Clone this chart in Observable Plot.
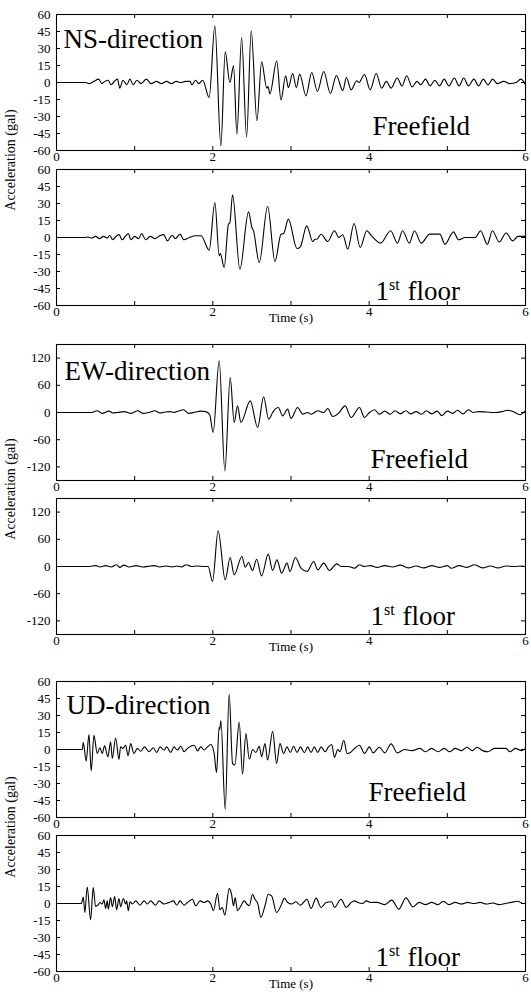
<!DOCTYPE html>
<html><head><meta charset="utf-8">
<script src="https://cdn.jsdelivr.net/npm/d3@7"></script>
<script src="https://cdn.jsdelivr.net/npm/@observablehq/plot@0.6"></script>
<style>
body{margin:0;background:#fff;}
#chart{position:relative;width:531px;height:992px;overflow:hidden;font-family:"Liberation Serif","Times New Roman",serif;color:#000;}
#chart svg{position:absolute;left:0;}
#chart svg text{font-family:"Liberation Serif","Times New Roman",serif;}
.ylab{position:absolute;font-size:14px;white-space:nowrap;transform:translate(-50%,-50%) rotate(-90deg);}
</style></head><body><div id="chart"></div><script>
// ---- data: [time (s), acceleration (gal)] ----
const nsFreefield = [[0,0],[0.37,0],[0.42,-1],[0.48,1],[0.54,3],[0.58,-1],[0.62,1],[0.66,2],[0.7,-2],[0.74,1],[0.78,3],[0.81,-5],[0.85,2],[0.9,-2],[0.94,3],[0.98,-2],[1.03,2],[1.08,-1],[1.15,3],[1.21,-1],[1.28,1],[1.34,-1],[1.41,1],[1.47,-1],[1.53,1],[1.59,0],[1.65,1],[1.71,1],[1.73,-2],[1.78,2],[1.82,-1],[1.87,2],[1.953,-13.2],[2.026,50],[2.103,-56],[2.158,27],[2.218,0],[2.265,14.7],[2.308,-45.6],[2.368,39.7],[2.432,-48],[2.491,45.6],[2.564,-33.8],[2.624,18.2],[2.69,-5],[2.705,-3.5],[2.73,-10],[2.817,19],[2.872,-15.3],[2.932,5.9],[2.966,-4.4],[3.022,7.9],[3.068,-4.4],[3.111,7.4],[3.192,-11.8],[3.265,8.8],[3.338,-7.9],[3.419,9.7],[3.504,-9.7],[3.581,6.2],[3.662,-7.1],[3.709,4.4],[3.769,-6.5],[3.842,1.5],[3.87,0],[3.94,7],[4.013,-6.5],[4.09,8],[4.16,-5],[4.22,1],[4.28,-5],[4.36,4],[4.42,-3],[4.48,6],[4.55,-4],[4.61,1],[4.66,-2],[4.72,3],[4.78,-3],[4.84,2],[4.9,-3],[4.96,3],[5.02,-3],[5.09,4],[5.15,-3],[5.21,4],[5.27,-3],[5.34,3],[5.4,-3],[5.46,3],[5.52,-2],[5.58,3],[5.64,-1],[5.72,1],[5.8,-1],[5.88,0],[5.94,3],[6,-2]];
const nsFloor1 = [[0,0],[0.37,0],[0.4,0.5],[0.45,-0.5],[0.5,1],[0.55,-1],[0.6,1],[0.65,-0.5],[0.68,2],[0.72,-2],[0.76,1],[0.8,2.5],[0.84,-2],[0.88,1],[0.92,3.5],[0.95,-2],[1,1],[1.05,-1],[1.09,3.5],[1.14,-2],[1.2,1],[1.26,-1],[1.32,1.5],[1.37,2.5],[1.42,-3],[1.48,2],[1.52,-1],[1.58,3],[1.63,-2],[1.7,0],[1.78,1.5],[1.85,1.5],[1.953,-11.2],[2.026,30.9],[2.082,-16.2],[2.095,-14],[2.145,-26.5],[2.2,11.8],[2.218,13],[2.252,37.6],[2.346,-28],[2.457,22.6],[2.5,8.8],[2.52,5.9],[2.594,-22],[2.701,27.3],[2.795,-21.2],[2.872,2.9],[2.906,3.5],[2.966,16.2],[3.077,-9.7],[3.12,-8.2],[3.201,10.3],[3.278,-3.5],[3.308,-1.5],[3.33,-1.5],[3.385,2.9],[3.47,-3.5],[3.556,5.9],[3.611,0],[3.662,2.4],[3.726,-10.3],[3.807,12.3],[3.885,-8.8],[3.97,5.9],[4.03,1.5],[4.145,-5],[4.275,6],[4.362,-5],[4.427,6],[4.514,-5],[4.579,6],[4.666,-5],[4.774,3],[4.904,3],[4.97,-6],[5.078,5],[5.143,-2],[5.23,0],[5.36,0],[5.425,6],[5.512,-6],[5.577,6],[5.664,-4],[5.751,4],[5.838,-3],[5.903,1],[6,1]];
const ewFreefield = [[0,0],[0.45,0],[0.519,4],[0.584,-2],[0.671,3],[0.72,-1],[0.78,0],[0.867,2],[0.953,-2],[1.04,4],[1.105,-2],[1.18,0],[1.257,4],[1.322,-1],[1.39,1],[1.452,2],[1.5,0],[1.539,2],[1.626,6],[1.691,-2],[1.778,1],[1.843,3],[1.909,2],[1.96,-5],[2.004,-44],[2.081,114],[2.154,-128.7],[2.222,77],[2.273,-22],[2.316,14.7],[2.359,-22],[2.479,25.7],[2.573,-33],[2.65,34.6],[2.714,-14.7],[2.765,0],[2.8,8],[2.838,11],[2.893,-7.4],[2.957,7.4],[3,-13],[3.085,11],[3.149,-3.7],[3.214,0],[3.256,-3.7],[3.342,3.7],[3.419,0],[3.47,8.8],[3.534,-8.8],[3.607,-2],[3.692,14.7],[3.769,-11],[3.876,11],[3.94,-11],[4.004,0],[4.07,6],[4.13,-4],[4.2,3],[4.27,-4],[4.33,4],[4.4,-3],[4.47,4],[4.53,-3],[4.6,2],[4.67,-4],[4.73,4],[4.8,-3],[4.87,3],[4.93,-7],[5,3],[5.07,-2],[5.13,5],[5.2,-3],[5.27,6],[5.33,0],[5.4,2],[5.5,1],[5.6,0],[5.7,2],[5.77,5],[5.84,2],[5.93,-5],[6,5]];
const ewFloor1 = [[0,0],[0.42,0],[0.5,2],[0.56,-1],[0.63,2],[0.7,-1],[0.77,4],[0.81,-2],[0.86,3],[0.93,-1],[1.02,2],[1.1,-1],[1.2,1],[1.25,2],[1.32,-1],[1.4,1],[1.48,-1],[1.54,1],[1.6,-1],[1.66,4],[1.72,0],[1.8,1],[1.88,0],[1.94,0],[1.996,-33],[2.068,78.7],[2.158,-29.4],[2.222,19.9],[2.273,-18.4],[2.372,22],[2.414,-1.5],[2.457,8.8],[2.508,-8.8],[2.56,16],[2.624,-20.6],[2.709,27.2],[2.765,-8.8],[2.82,14.7],[2.88,-14.7],[2.949,7.4],[2.987,-11],[3.056,19.9],[3.128,-3.7],[3.205,-11],[3.291,11],[3.342,-7.4],[3.419,7.4],[3.491,-8.8],[3.585,5.9],[3.641,0],[3.73,0],[3.812,-3.7],[3.876,3.7],[3.94,0],[4.02,2],[4.1,-2],[4.2,2],[4.3,-1],[4.4,3],[4.5,-3],[4.6,1],[4.7,-3],[4.8,2],[4.9,-2],[5,2],[5.05,-4],[5.15,2],[5.25,-2],[5.35,4],[5.45,-3],[5.55,1],[5.65,-3],[5.75,1],[5.85,0],[5.95,1],[6,0]];
const udFreefield = [[0,0],[0.33,0],[0.342,6.1],[0.38,-10.2],[0.415,13.1],[0.444,-18.9],[0.479,12.5],[0.521,-3.5],[0.556,1.5],[0.585,-3.5],[0.615,3.2],[0.658,-6.4],[0.692,6.7],[0.714,-7.9],[0.756,10.2],[0.799,-8.7],[0.82,2.3],[0.85,0.9],[0.885,3.8],[0.915,-5.5],[0.949,5.2],[0.991,-3.5],[1.034,1],[1.077,-1.5],[1.128,2.3],[1.184,-2],[1.239,1.5],[1.282,-2.6],[1.325,2.3],[1.376,-0.5],[1.41,2.3],[1.461,-2.6],[1.504,2.3],[1.547,-0.5],[1.59,2.9],[1.632,-2],[1.675,1],[1.761,3.8],[1.803,-1.2],[1.846,2.3],[1.889,-0.5],[1.932,2.3],[1.974,4.4],[2.017,-3.5],[2.047,-20.4],[2.081,19.8],[2.09,18],[2.103,25.6],[2.158,-53],[2.209,48.9],[2.252,-12.2],[2.282,-13.7],[2.337,24.2],[2.38,-21.8],[2.423,14],[2.466,-8.4],[2.509,0],[2.551,-2.6],[2.594,2.9],[2.624,-6.4],[2.667,5.2],[2.701,-9.3],[2.765,16],[2.816,-12.2],[2.859,5.2],[2.906,-3.5],[2.949,2.3],[2.991,-2.6],[3.034,2.9],[3.077,-2.6],[3.12,2.3],[3.171,-2.9],[3.214,2.3],[3.256,-2.6],[3.299,2.3],[3.342,-2.6],[3.385,2.3],[3.436,-2],[3.479,2.3],[3.521,4.4],[3.556,-7],[3.598,0],[3.628,-2],[3.675,8.2],[3.718,-3.5],[3.761,-2.6],[3.812,0.9],[3.876,3.8],[3.94,-3.5],[4.004,2.3],[4.05,-3],[4.13,2],[4.2,-3],[4.28,5],[4.36,-3],[4.45,0],[4.55,-1],[4.65,1],[4.72,-2],[4.8,1],[4.88,-2],[4.96,1],[5.03,-2],[5.1,1],[5.18,-1],[5.25,2],[5.32,-1],[5.38,2],[5.45,-1],[5.52,-2],[5.6,1],[5.75,1],[5.8,-2],[5.87,1],[5.95,-1],[6,1]];
const udFloor1 = [[0,0],[0.32,0],[0.342,5.8],[0.363,-7.9],[0.393,14.6],[0.436,-14.3],[0.47,14],[0.5,-2.6],[0.53,-1.5],[0.556,0.9],[0.585,-0.5],[0.607,3.2],[0.628,-4.4],[0.65,2.3],[0.662,-5],[0.692,5.2],[0.714,-2.9],[0.744,6.1],[0.769,-5.5],[0.799,4.4],[0.82,-2.9],[0.855,4.4],[0.885,-0.5],[0.897,2.3],[0.919,-6.4],[0.94,1.5],[0.97,-0.5],[1.013,2.3],[1.068,-1.5],[1.12,2.3],[1.162,-0.5],[1.205,2.3],[1.269,-1.5],[1.312,2.3],[1.376,-0.5],[1.44,0.9],[1.496,2.3],[1.538,-1.5],[1.581,2.3],[1.632,-1.5],[1.675,0.9],[1.739,3.8],[1.782,-2],[1.838,2.3],[1.889,0.9],[1.932,2.3],[1.974,-0.5],[2.008,-6.4],[2.06,9],[2.09,-5.5],[2.12,-3.5],[2.154,-10.2],[2.209,13.1],[2.239,8.2],[2.265,-2],[2.286,5.2],[2.316,-6.4],[2.36,-2],[2.402,2.3],[2.436,-0.5],[2.466,-2],[2.509,8.2],[2.538,3.8],[2.573,0.3],[2.615,-12.2],[2.667,-2],[2.709,8.2],[2.752,6.7],[2.816,-7.9],[2.88,-0.5],[2.915,4.7],[2.957,0.9],[3.009,-0.5],[3.064,1.5],[3.12,-1.5],[3.205,3.8],[3.256,-4.4],[3.321,4.7],[3.385,-3.5],[3.449,0.9],[3.521,1.5],[3.556,-3.5],[3.641,3.8],[3.705,-3.5],[3.769,0.9],[3.812,2.3],[3.855,0.9],[3.919,0],[3.962,2.3],[4.026,0.9],[4.1,1],[4.2,-1],[4.29,3],[4.38,-5],[4.47,5],[4.56,-3],[4.64,1],[4.72,-1],[4.8,1],[4.88,-1],[4.95,2],[5.02,-1],[5.1,1],[5.18,-0.5],[5.26,1],[5.34,0],[5.42,1],[5.5,-0.5],[5.58,0.5],[5.66,-1],[5.74,0],[5.82,1],[5.9,2],[5.97,0],[6,0]];

const xTickLabels = [0, 2, 4, 6];
const xTickMarks = [0, 1, 2, 3, 4, 5, 6];
const yTicks60 = [-60, -45, -30, -15, 0, 15, 30, 45, 60];
const yTicks150 = [-120, -60, 0, 60, 120];
const directions = ["NS-direction", "EW-direction", "UD-direction"];
const siteFree = "Freefield";
const yLabel = "Acceleration (gal)";
const xLabel = "Time (s)";

// ---- layout ----
const W = 531, ML = 56, MR = 6, IH = 136, MT = 12, MB = 34;
const IW = W - ML - MR;
const font = "Liberation Serif, Times New Roman, serif";

function panel({data, yMax, yTicks, top, title, titleDx, titleDy, floor, siteDx, siteDy, time}) {
  const marks = [
    Plot.gridX(xTickMarks, {stroke: "black", strokeOpacity: 1, strokeWidth: 1, insetTop: IH - 4}),
    Plot.gridX(xTickMarks, {stroke: "black", strokeOpacity: 1, strokeWidth: 1, insetBottom: IH - 4}),
    Plot.gridY(yTicks, {stroke: "black", strokeOpacity: 1, strokeWidth: 1, insetRight: IW - 4}),
    Plot.gridY(yTicks, {stroke: "black", strokeOpacity: 1, strokeWidth: 1, insetLeft: IW - 4}),
    Plot.axisX(xTickLabels, {tickSize: 0, tickPadding: 1, label: null, tickFormat: d => `${d}`, fontSize: 13, fontFamily: font, fill: "black"}),
    Plot.axisY(yTicks, {tickSize: 0, tickPadding: 6, label: null, tickFormat: d => `${d}`, fontSize: 13, fontFamily: font, fill: "black"}),
    Plot.line(data, {x: d => d[0], y: d => d[1], curve: "monotone-x", stroke: "black", strokeWidth: 1.1}),
    Plot.frame({stroke: "black", strokeWidth: 1.1})
  ];
  const t = {textAnchor: "start", lineAnchor: "bottom", fill: "black", fontFamily: font};
  if (title) marks.push(Plot.text([title], {...t, frameAnchor: "top-left", dx: titleDx, dy: titleDy, fontSize: 27}));
  if (floor) {
    marks.push(Plot.text(["1"], {...t, frameAnchor: "bottom-left", dx: siteDx, dy: siteDy, fontSize: 27}));
    marks.push(Plot.text(["st"], {...t, frameAnchor: "bottom-left", dx: siteDx + 13.5, dy: siteDy - 10, fontSize: 16}));
    marks.push(Plot.text(["floor"], {...t, frameAnchor: "bottom-left", dx: siteDx + 32, dy: siteDy, fontSize: 27}));
  } else {
    marks.push(Plot.text([siteFree], {...t, frameAnchor: "bottom-left", dx: siteDx, dy: siteDy, fontSize: 27}));
  }
  if (time) marks.push(Plot.text([xLabel], {frameAnchor: "bottom", dy: 16, lineAnchor: "bottom", fontSize: 13, fill: "black", fontFamily: font}));
  const svg = Plot.plot({
    width: W, height: MT + IH + MB,
    marginLeft: ML, marginRight: MR, marginTop: MT, marginBottom: MB,
    style: {background: "transparent", overflow: "visible", fontFamily: font, fontSize: "13px", color: "black"},
    x: {domain: [0, 6]},
    y: {domain: [-yMax, yMax]},
    marks
  });
  svg.style.top = (top - MT) + "px";
  return svg;
}

const panels = [
  {data: nsFreefield, yMax: 60, yTicks: yTicks60, top: 14, title: directions[0], titleDx: 7, titleDy: 33, floor: false, siteDx: 316, siteDy: -16, time: false},
  {data: nsFloor1, yMax: 60, yTicks: yTicks60, top: 169, floor: true, siteDx: 319, siteDy: -6, time: true},
  {data: ewFreefield, yMax: 150, yTicks: yTicks150, top: 344, title: directions[1], titleDx: 8, titleDy: 35, floor: false, siteDx: 314, siteDy: -13, time: false},
  {data: ewFloor1, yMax: 150, yTicks: yTicks150, top: 498, floor: true, siteDx: 314, siteDy: -10, time: true},
  {data: udFreefield, yMax: 60, yTicks: yTicks60, top: 681, title: directions[2], titleDx: 10, titleDy: 32, floor: false, siteDx: 312, siteDy: -17, time: false},
  {data: udFloor1, yMax: 60, yTicks: yTicks60, top: 835, floor: true, siteDx: 319, siteDy: -6, time: true}
];

const chart = document.getElementById("chart");
for (const p of panels) chart.appendChild(panel(p));

for (const mid of [159.5, 489, 826.5]) {
  const d = document.createElement("div");
  d.className = "ylab";
  d.textContent = yLabel;
  d.style.left = "11px";
  d.style.top = mid + "px";
  chart.appendChild(d);
}
</script></body></html>
